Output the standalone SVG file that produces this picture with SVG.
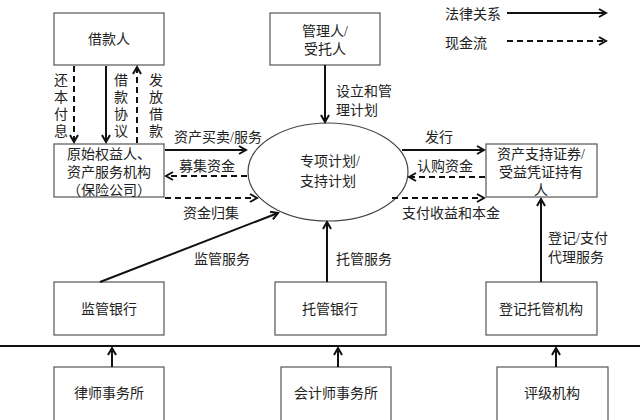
<svg xmlns="http://www.w3.org/2000/svg" width="640" height="420" viewBox="0 0 640 420">
<style>
.box{fill:#fff;stroke:#555;stroke-width:1.2}
.t{font-family:"Liberation Serif","Noto Sans CJK SC",serif;font-size:14px;fill:#222;text-anchor:middle}
.tl{font-family:"Liberation Serif","Noto Sans CJK SC",serif;font-size:14px;fill:#222}
.s{stroke:#111;stroke-width:2;fill:none}
.d{stroke:#111;stroke-width:2;fill:none;stroke-dasharray:6,4}
</style>
<defs>
<marker id="ah" markerWidth="10" markerHeight="10" refX="8" refY="5" orient="auto" markerUnits="userSpaceOnUse">
<path d="M1,1 L8,5 L1,9" fill="none" stroke="#111" stroke-width="2"/>
</marker>
</defs>
<g id="borrower"><rect class="box" x="54" y="13" width="110" height="52"/><text class="t" x="109" y="44">借款人</text></g>
<g id="manager"><rect class="box" x="270" y="13" width="110" height="52"/><text class="t" x="325" y="36">管理人/</text><text class="t" x="325" y="54">受托人</text></g>
<g id="originator"><rect class="box" x="54" y="144" width="110" height="53"/><text class="t" x="109" y="159">原始权益人、</text><text class="t" x="109" y="177">资产服务机构</text><text class="t" x="109" y="195">（保险公司）</text></g>
<g id="plan"><ellipse cx="328" cy="172" rx="80" ry="49" fill="#fff" stroke="#444" stroke-width="1.2"/><text class="t" x="330" y="166">专项计划/</text><text class="t" x="328" y="186">支持计划</text></g>
<g id="holder"><rect class="box" x="486" y="144" width="111" height="53"/><text class="t" x="541" y="159">资产支持证券/</text><text class="t" x="541" y="177">受益凭证持有</text><text class="t" x="541" y="195">人</text></g>
<g id="supervisor"><rect class="box" x="54" y="282" width="110" height="53"/><text class="t" x="109" y="314">监管银行</text></g>
<g id="custodian"><rect class="box" x="275" y="282" width="111" height="53"/><text class="t" x="330" y="314">托管银行</text></g>
<g id="registrar"><rect class="box" x="486" y="282" width="111" height="53"/><text class="t" x="541" y="314">登记托管机构</text></g>
<g id="law"><rect class="box" x="54" y="367" width="110" height="60"/><text class="t" x="109" y="398">律师事务所</text></g>
<g id="accountant"><rect class="box" x="281" y="367" width="110" height="60"/><text class="t" x="336" y="398">会计师事务所</text></g>
<g id="rating"><rect class="box" x="497" y="367" width="111" height="60"/><text class="t" x="552" y="398">评级机构</text></g>
<g id="legend">
<text class="tl" x="445" y="19">法律关系</text>
<line class="s" x1="507" y1="13" x2="606" y2="13" marker-end="url(#ah)"/>
<text class="tl" x="445" y="48">现金流</text>
<line class="d" x1="507" y1="41" x2="606" y2="41" marker-end="url(#ah)"/>
</g>
<g id="connectors">
<line x1="0" y1="346" x2="640" y2="346" stroke="#111" stroke-width="2"/>
<line class="s" x1="112" y1="367" x2="112" y2="348" marker-end="url(#ah)"/>
<line class="s" x1="338" y1="367" x2="338" y2="348" marker-end="url(#ah)"/>
<line class="s" x1="556" y1="367" x2="556" y2="348" marker-end="url(#ah)"/>
<line class="d" x1="74" y1="66" x2="74" y2="142" marker-end="url(#ah)"/>
<line class="s" x1="106" y1="66" x2="106" y2="142" marker-end="url(#ah)"/>
<line class="d" x1="137" y1="143" x2="137" y2="67" marker-end="url(#ah)"/>
<line class="s" x1="165" y1="150" x2="246" y2="150" marker-end="url(#ah)"/>
<line class="d" x1="247" y1="176" x2="166" y2="176" marker-end="url(#ah)"/>
<line class="d" x1="165" y1="198" x2="257" y2="198" marker-end="url(#ah)"/>
<line class="s" x1="402" y1="150" x2="484" y2="150" marker-end="url(#ah)"/>
<line class="d" x1="485" y1="177" x2="409" y2="177" marker-end="url(#ah)"/>
<line class="d" x1="392" y1="198" x2="484" y2="198" marker-end="url(#ah)"/>
<line class="s" x1="325" y1="65" x2="325" y2="122" marker-end="url(#ah)"/>
<line class="s" x1="100" y1="282" x2="278" y2="213" marker-end="url(#ah)"/>
<line class="s" x1="327" y1="282" x2="327" y2="222" marker-end="url(#ah)"/>
<line class="s" x1="541" y1="282" x2="541" y2="199" marker-end="url(#ah)"/>
<text class="t" x="61" y="85">还</text><text class="t" x="61" y="102">本</text><text class="t" x="61" y="119">付</text><text class="t" x="61" y="136">息</text>
<text class="t" x="121" y="85">借</text><text class="t" x="121" y="102">款</text><text class="t" x="121" y="119">协</text><text class="t" x="121" y="136">议</text>
<text class="t" x="156" y="85">发</text><text class="t" x="156" y="102">放</text><text class="t" x="156" y="119">借</text><text class="t" x="156" y="136">款</text>
<text class="t" x="218" y="142">资产买卖/服务</text>
<text class="t" x="207" y="171">募集资金</text>
<text class="t" x="211" y="218">资金归集</text>
<text class="t" x="439" y="142">发行</text>
<text class="t" x="445" y="171">认购资金</text>
<text class="t" x="451" y="218">支付收益和本金</text>
<text class="tl" x="336" y="96">设立和管</text>
<text class="tl" x="336" y="115">理计划</text>
<text class="t" x="222" y="264">监管服务</text>
<text class="tl" x="336" y="264">托管服务</text>
<text class="tl" x="548" y="243">登记/支付</text>
<text class="tl" x="548" y="262">代理服务</text>
</g>
</svg>
